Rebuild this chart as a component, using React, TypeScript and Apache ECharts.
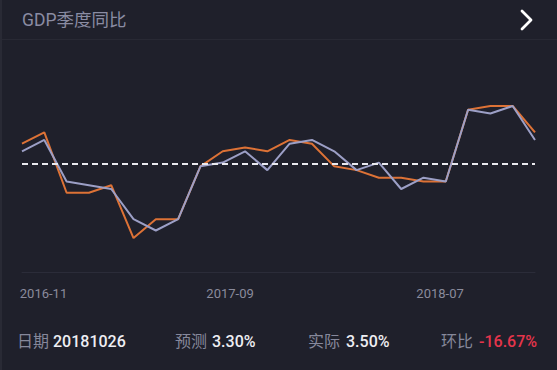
import React, { useEffect, useRef } from "react";
import * as echarts from "echarts";

const months = [
  "2016-11", "2016-12", "2017-01", "2017-02", "2017-03", "2017-04",
  "2017-05", "2017-06", "2017-07", "2017-08", "2017-09", "2017-10",
  "2017-11", "2017-12", "2018-01", "2018-02", "2018-03", "2018-04",
  "2018-05", "2018-06", "2018-07", "2018-08", "2018-09", "2018-10",
];
const actual = [3.2, 3.5, 1.9, 1.9, 2.1, 0.7, 1.2, 1.2, 2.6, 3.0, 3.1, 3.0,
  3.3, 3.2, 2.6, 2.5, 2.3, 2.3, 2.2, 2.2, 4.1, 4.2, 4.2, 3.5];
const forecast = [3.0, 3.3, 2.2, 2.1, 2.0, 1.2, 0.9, 1.2, 2.6, 2.7, 3.0, 2.5,
  3.2, 3.3, 3.0, 2.5, 2.7, 2.0, 2.3, 2.2, 4.1, 4.0, 4.2, 3.3];
const labelIndices = [0, 10, 20];
const releaseDate = "20181026";

const FONT = 'Roboto, "Noto Sans CJK SC", sans-serif';
const BG = "#1f202b";

export default function App() {
  const ref = useRef<HTMLDivElement>(null);
  useEffect(() => {
    if (!ref.current) return;
    const chart = echarts.init(ref.current, null, { renderer: "svg" });
    const n = actual.length;
    const lastA = actual[n - 1];
    const prevA = actual[n - 2];
    const lastF = forecast[n - 1];
    const change = ((lastA - prevA) / prevA) * 100;
    const grey = "#86889b";
    const white = "#eeeef3";
    const footY = 343;
    const footer = (x: number, text: string, color: string, weight: any) => ({
      type: "text",
      left: x,
      top: footY - 10,
      style: { text, fill: color, font: `${weight} 16px ${FONT}` },
    });
    chart.setOption({
      animation: false,
      backgroundColor: BG,
      grid: { left: 22, right: 22, top: 49.4, bottom: 370 - 272, containLabel: false },
      xAxis: {
        type: "category",
        data: months,
        boundaryGap: false,
        axisLine: { show: true, onZero: false, lineStyle: { color: "#2b2c39", width: 1 } },
        axisTick: { show: false },
        splitLine: { show: false },
        axisLabel: {
          interval: (i: number) => labelIndices.includes(i),
          margin: 15,
          color: "#8a8b9c",
          fontSize: 13,
          fontFamily: FONT,
          formatter: (v: string, i: number) => {
            const k = labelIndices.indexOf(i);
            return `{l${k}|${v}}`;
          },
          rich: {
            l0: { color: "#8a8b9c", fontSize: 13, fontFamily: FONT, padding: [0, 0, 0, 43] },
            l1: { color: "#8a8b9c", fontSize: 13, fontFamily: FONT, padding: [0, 30, 0, 0] },
            l2: { color: "#8a8b9c", fontSize: 13, fontFamily: FONT, padding: [0, 56, 0, 0] },
          },
        },
      },
      yAxis: {
        type: "value",
        min: -0.2,
        max: 5.7,
        show: false,
        splitLine: { show: false },
      },
      series: [
        {
          name: "预测",
          type: "line",
          data: forecast,
          symbol: "none",
          lineStyle: { color: "#9c9fc6", width: 2 },
          z: 3,
        },
        {
          name: "实际",
          type: "line",
          data: actual,
          symbol: "none",
          lineStyle: { color: "#dd7236", width: 2 },
          z: 2,
          markLine: {
            silent: true,
            symbol: "none",
            label: { show: false },
            lineStyle: { color: "#e9e9ee", width: 2, type: [6, 4] },
            data: [{ type: "average" }],
          },
        },
      ],
      graphic: [
        { type: "rect", left: 0, top: 0, shape: { width: 2, height: 370 }, style: { fill: "#292a35" } },
        {
          type: "text",
          left: 22,
          top: 11,
          style: { text: "GDP季度同比", fill: "#8a8ca3", font: `17.5px ${FONT}` },
        },
        {
          type: "polyline",
          shape: { points: [[522, 11], [531, 20], [522, 29]] },
          style: { stroke: "#ffffff", lineWidth: 2.8, fill: null, lineCap: "round", lineJoin: "round" },
        },
        {
          type: "line",
          shape: { x1: 2, y1: 39.5, x2: 557, y2: 39.5 },
          style: { stroke: "#282934", lineWidth: 1 },
        },
        footer(17, "日期", grey, "normal"),
        footer(53, releaseDate, white, "500"),
        footer(175, "预测", grey, "normal"),
        footer(212, lastF.toFixed(2) + "%", white, "500"),
        footer(308, "实际", grey, "normal"),
        footer(346, lastA.toFixed(2) + "%", white, "500"),
        footer(441, "环比", grey, "normal"),
        footer(479, change.toFixed(2) + "%", "#e5354b", "500"),
      ],
    });
    return () => chart.dispose();
  }, []);
  return (
    <div
      ref={ref}
      style={{ position: "fixed", left: 0, top: 0, width: 557, height: 370, background: BG }}
    />
  );
}
